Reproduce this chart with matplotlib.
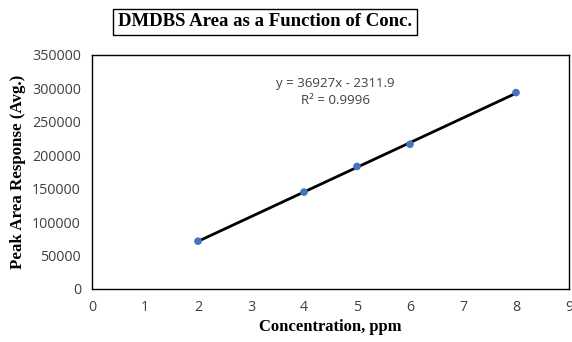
import matplotlib
matplotlib.use("Agg")
import matplotlib.pyplot as plt
import numpy as np

conc = [2, 4, 5, 6, 8]
area = [71500, 145000, 183300, 216500, 293800]
xticks = [0, 1, 2, 3, 4, 5, 6, 7, 8, 9]
yticks = [0, 50000, 100000, 150000, 200000, 250000, 300000, 350000]
title = "DMDBS Area as a Function of Conc."
xlabel = "Concentration, ppm"
ylabel = "Peak Area Response (Avg.)"
eq_text = "y = 36927x - 2311.9\nR² = 0.9996"

fig = plt.figure(figsize=(5.72, 3.42), dpi=100)
ax = fig.add_axes([92/572, 1-289/342, (569-92)/572, (289-55)/342])

coef = np.polyfit(conc, area, 1)
xs = np.array([min(conc), max(conc)])
ax.plot(xs, np.polyval(coef, xs), color="black", lw=2, zorder=2)
ax.scatter(conc, area, s=30, color="#4472C4", zorder=3, edgecolors="none")

ax.set_xlim(0, 9)
ax.set_ylim(0, 350000)
ax.set_xticks(xticks)
ax.set_yticks(yticks)
ax.tick_params(length=0, labelsize=10.3, colors="#404040")
ax.tick_params(axis="x", pad=8)
ax.tick_params(axis="y", pad=8)
for lbl in ax.get_xticklabels() + ax.get_yticklabels():
    lbl.set_family("Open Sans")
for s in ax.spines.values():
    s.set_color("black")
    s.set_linewidth(1.0)

ax.text(4.585, 294700, eq_text, ha="center", va="center", fontsize=9.5,
        family="Open Sans", color="#404040", linespacing=1.4)

fig.text(265/572, 1-22/342, title, ha="center", va="center", fontsize=13.5,
         family="Liberation Serif", weight="bold",
         bbox=dict(boxstyle="square,pad=0.25", fc="white", ec="black", lw=1))
fig.text(330/572, 1-327/342, xlabel, ha="center", va="center", fontsize=12,
         family="Liberation Serif", weight="bold")
fig.text(18/572, 1-172/342, ylabel, ha="center", va="center", fontsize=12.2,
         family="Liberation Serif", weight="bold", rotation=90)

fig.savefig("out.png", dpi=100)
